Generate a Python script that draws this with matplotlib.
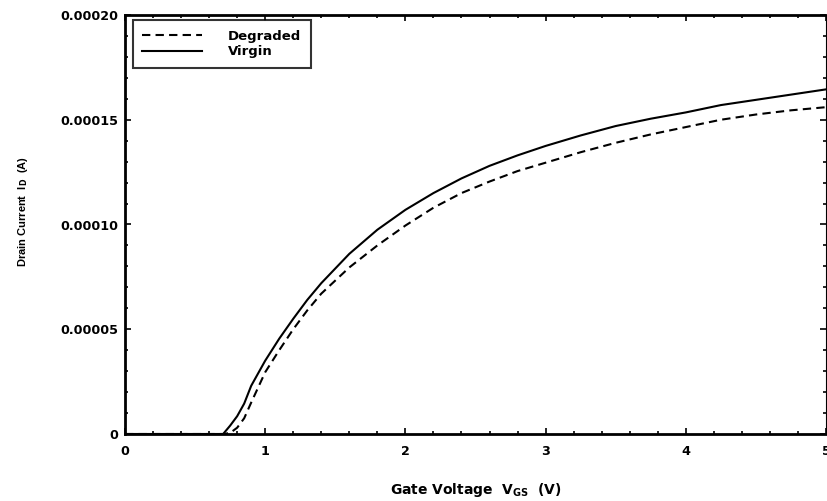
import numpy as np
import matplotlib
matplotlib.use("Agg")
import matplotlib.pyplot as plt
from matplotlib.ticker import MultipleLocator, FuncFormatter

plt.rcParams["font.family"] = ["DejaVu Sans"]
plt.rcParams["font.weight"] = "bold"
plt.rcParams["mathtext.fontset"] = "custom"
plt.rcParams["mathtext.rm"] = "DejaVu Sans:bold"
plt.rcParams["mathtext.bf"] = "DejaVu Sans:bold"

# gate voltage (V)
vgs = [0, 0.6, 0.7, 0.75, 0.8, 0.85, 0.9, 1.0, 1.1, 1.2, 1.3, 1.4, 1.6, 1.8,
       2.0, 2.2, 2.4, 2.6, 2.8, 3.0, 3.25, 3.5, 3.75, 4.0, 4.25, 4.5, 4.75, 5.0]
# drain current in units of 1e-5 A
virgin_1e5 = [0, 0, 0.0, 0.4, 0.85, 1.45, 2.3, 3.5, 4.55, 5.5, 6.4, 7.2, 8.6, 9.75,
              10.7, 11.5, 12.2, 12.8, 13.3, 13.75, 14.25, 14.7, 15.05, 15.35, 15.7,
              15.95, 16.2, 16.45]
degraded_1e5 = [0, 0, 0, 0.05, 0.3, 0.75, 1.5, 2.95, 4.0, 5.0, 5.9, 6.7, 7.95, 9.0,
                9.95, 10.8, 11.5, 12.05, 12.55, 12.95, 13.45, 13.9, 14.3, 14.65,
                15.0, 15.25, 15.45, 15.6]

vgs = np.array(vgs)
virgin = np.array(virgin_1e5) * 1e-5
degraded = np.array(degraded_1e5) * 1e-5

fig = plt.figure(figsize=(8.28, 5.01), dpi=100)
ax = fig.add_axes([125 / 828, 67 / 501, 701 / 828, 419 / 501])

ax.plot(vgs, degraded, color="black", lw=1.5, linestyle=(0, (4, 2.5)), label="Degraded")
ax.plot(vgs, virgin, color="black", lw=1.5, label="Virgin")

ax.set_xlim(0, 5)
ax.set_ylim(0, 0.0002)
ax.xaxis.set_major_locator(MultipleLocator(1))
ax.xaxis.set_minor_locator(MultipleLocator(0.2))
ax.yaxis.set_major_locator(MultipleLocator(0.00005))
ax.yaxis.set_minor_locator(MultipleLocator(0.00001))
ax.yaxis.set_major_formatter(FuncFormatter(lambda v, p: "0" if abs(v) < 1e-12 else f"{v:.5f}"))

ax.tick_params(which="both", direction="in", top=True, right=True, width=1.2)
ax.tick_params(which="major", length=4)
ax.tick_params(which="minor", length=2)
ax.tick_params(axis="x", which="major", pad=8, labelsize=9.2)
ax.tick_params(axis="y", which="major", pad=5, labelsize=9.2)
for lab in ax.get_xticklabels() + ax.get_yticklabels():
    lab.set_fontweight("bold")

for side in ["left", "bottom", "top"]:
    ax.spines[side].set_linewidth(2)
ax.spines["right"].set_linewidth(0.8)

ax.set_xlabel(r"Gate Voltage  V$_{\mathrm{GS}}$  (V)", fontsize=10, fontweight="bold")
ax.set_ylabel(r"Drain Current  I$_{\mathrm{D}}$  (A)", fontsize=8,
              fontweight="bold", family="Liberation Sans")
ax.xaxis.set_label_coords(0.5, -0.112)
ax.yaxis.set_label_coords(-0.135, 0.53)

leg = ax.legend(loc="upper left", bbox_to_anchor=(0.011, 0.988), fontsize=9.5,
                frameon=True, fancybox=False, handlelength=4.5, handletextpad=2.0,
                labelspacing=0.22, borderpad=0.72, borderaxespad=0)
leg.get_frame().set_edgecolor("black")
leg.get_frame().set_linewidth(1.5)
for t in leg.get_texts():
    t.set_fontweight("bold")

fig.savefig("out.png", dpi=100)
